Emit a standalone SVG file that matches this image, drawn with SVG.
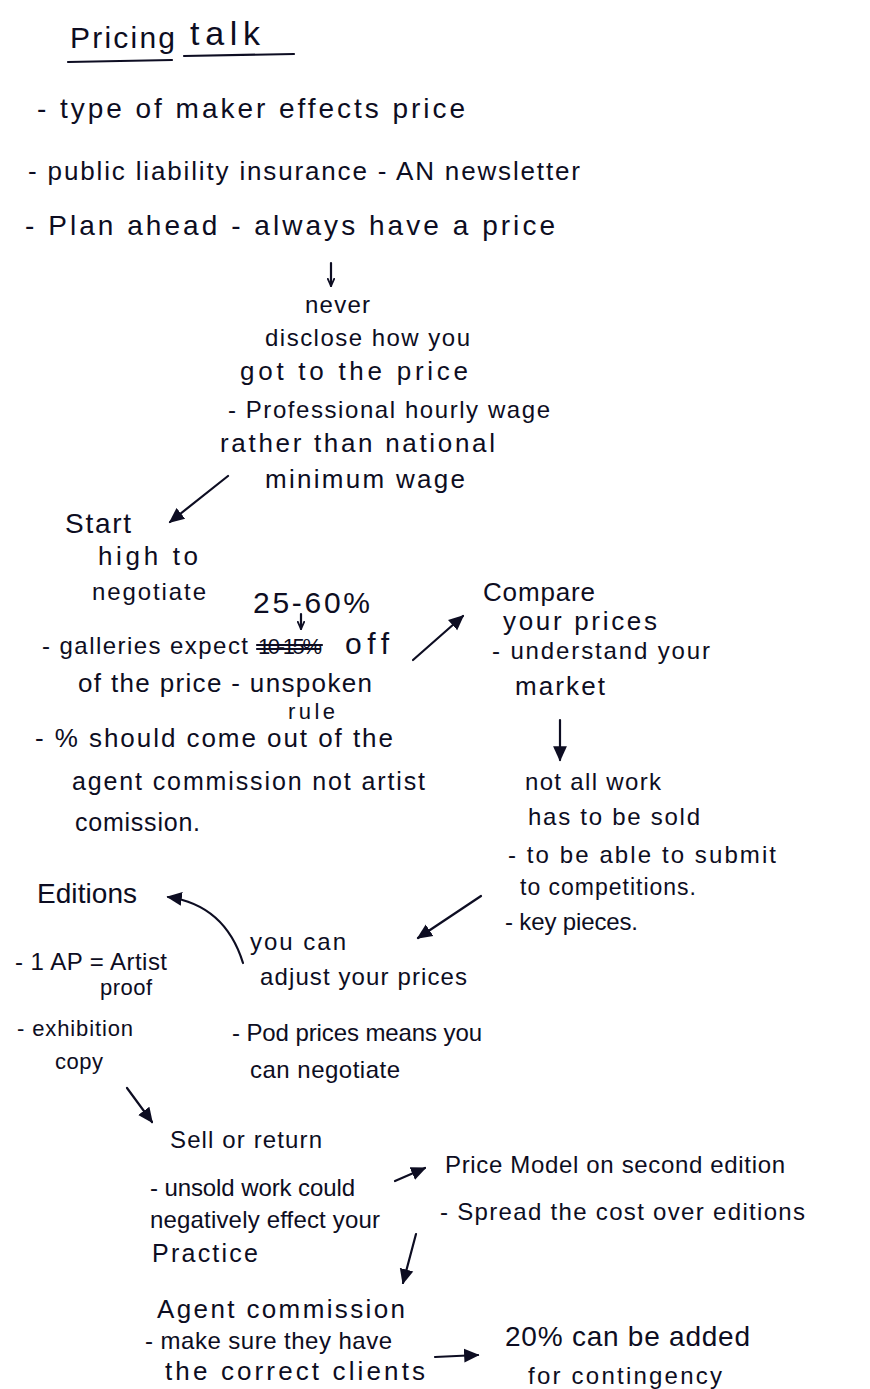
<svg xmlns="http://www.w3.org/2000/svg" width="870" height="1389" viewBox="0 0 870 1389">
<style>
text{font-family:"Liberation Sans","DejaVu Sans",sans-serif;font-size:24px;fill:#0d0d22}
.xl{font-size:30px}
.big{font-size:28px}
.md{font-size:26px}
.sm{font-size:22px}
.c{stroke:#0d0d22;stroke-width:2.2;fill:none;stroke-linecap:round}
</style>
<defs>
<marker id="ah" viewBox="0 0 10 10" refX="9" refY="5" markerWidth="7" markerHeight="7" orient="auto" markerUnits="strokeWidth">
<path d="M0,0.5 L10,5 L0,9.5 z" fill="#0d0d22"/>
</marker>
<marker id="ahs" viewBox="0 0 10 10" refX="9" refY="5" markerWidth="4" markerHeight="4" orient="auto" markerUnits="strokeWidth">
<path d="M0,1 L9,5 L0,9" fill="none" stroke="#0d0d22" stroke-width="2"/>
</marker>
</defs>
<rect width="870" height="1389" fill="#ffffff"/>

<g id="title">
<text x="70" y="48" class="xl" textLength="105">Pricing</text>
<text x="190" y="45" style="font-size:34px" textLength="70">talk</text>
<path class="c" d="M68,62 L172,60 M184,56 L294,54"/>
</g>

<g id="intro">
<text x="37" y="118" class="big" textLength="428">- type of maker effects price</text>
<text x="28" y="180" class="md" textLength="552">- public liability insurance - AN newsletter</text>
<text x="25" y="235" class="big" textLength="530">- Plan ahead - always have a price</text>
</g>

<g id="never">
<text x="305" y="313" textLength="65">never</text>
<text x="265" y="346" textLength="205">disclose how you</text>
<text x="240" y="380" class="md" textLength="228">got to the price</text>
<text x="228" y="418" textLength="322">- Professional hourly wage</text>
<text x="220" y="452" class="md" textLength="275">rather than national</text>
<text x="265" y="488" class="md" textLength="200">minimum wage</text>
</g>

<g id="start-high">
<text x="65" y="533" style="font-size:28px" textLength="66">Start</text>
<text x="98" y="565" class="md" textLength="100">high to</text>
<text x="92" y="600" textLength="114">negotiate</text>
</g>

<g id="galleries">
<text x="253" y="613" class="xl" textLength="117">25-60%</text>
<text x="42" y="654" textLength="206">- galleries expect</text>
<text x="258" y="654" class="sm" textLength="64">10-15%</text>
<path class="c" d="M257,645 L322,645 M257,649 L320,649"/>
<text x="345" y="654" style="font-size:30px" textLength="44">off</text>
<text x="78" y="692" class="md" textLength="294">of the price - unspoken</text>
<text x="288" y="719" class="sm" textLength="47">rule</text>
<text x="35" y="747" class="md" textLength="358">- % should come out of the</text>
<text x="72" y="790" style="font-size:25px" textLength="353">agent commission not artist</text>
<text x="75" y="831" style="font-size:25px" textLength="125">comission.</text>
</g>

<g id="compare">
<text x="483" y="601" class="md" textLength="112">Compare</text>
<text x="503" y="630" class="md" textLength="154">your prices</text>
<text x="492" y="659" textLength="218">- understand your</text>
<text x="515" y="695" class="md" textLength="90">market</text>
</g>

<g id="not-all-work">
<text x="525" y="790" textLength="136">not all work</text>
<text x="528" y="825" textLength="172">has to be sold</text>
<text x="508" y="863" textLength="268">- to be able to submit</text>
<text x="520" y="895" style="font-size:23px" textLength="176">to competitions.</text>
<text x="505" y="930" textLength="133">- key pieces.</text>
</g>

<g id="editions">
<text x="37" y="903" class="big" textLength="100">Editions</text>
<text x="15" y="970" textLength="152">- 1 AP = Artist</text>
<text x="100" y="995" class="sm" textLength="52">proof</text>
<text x="17" y="1036" class="sm" textLength="116">- exhibition</text>
<text x="55" y="1069" class="sm" textLength="48">copy</text>
</g>

<g id="adjust">
<text x="250" y="950" textLength="96">you can</text>
<text x="260" y="985" textLength="207">adjust your prices</text>
<text x="232" y="1041" textLength="250">- Pod prices means you</text>
<text x="250" y="1078" textLength="150">can negotiate</text>
</g>

<g id="sell-or-return">
<text x="170" y="1148" textLength="152">Sell or return</text>
<text x="150" y="1196" textLength="205">- unsold work could</text>
<text x="150" y="1228" textLength="230">negatively effect your</text>
<text x="152" y="1262" style="font-size:25px" textLength="106">Practice</text>
</g>

<g id="price-model">
<text x="445" y="1173" textLength="340">Price Model on second edition</text>
<text x="440" y="1220" textLength="365">- Spread the cost over editions</text>
</g>

<g id="agent-commission">
<text x="157" y="1318" class="md" textLength="248">Agent commission</text>
<text x="145" y="1349" textLength="247">- make sure they have</text>
<text x="165" y="1380" class="md" textLength="260">the correct clients</text>
</g>

<g id="contingency">
<text x="505" y="1346" class="big" textLength="245">20% can be added</text>
<text x="528" y="1384" textLength="194">for contingency</text>
</g>

<g id="connectors">
<path class="c" d="M331,263 L331,286" marker-end="url(#ahs)"/>
<path class="c" d="M301,614 L301,629" marker-end="url(#ahs)"/>
<path class="c" d="M228,476 L170,522" marker-end="url(#ah)"/>
<path class="c" d="M413,660 L463,616" marker-end="url(#ah)"/>
<path class="c" d="M560,720 L560,760" marker-end="url(#ah)"/>
<path class="c" d="M481,896 L418,938" marker-end="url(#ah)"/>
<path class="c" d="M243,963 Q225,905 168,897" marker-end="url(#ah)"/>
<path class="c" d="M127,1088 L152,1122" marker-end="url(#ah)"/>
<path class="c" d="M395,1181 L425,1168" marker-end="url(#ah)"/>
<path class="c" d="M416,1234 L403,1283" marker-end="url(#ah)"/>
<path class="c" d="M435,1357 L478,1355" marker-end="url(#ah)"/>
</g>
</svg>
